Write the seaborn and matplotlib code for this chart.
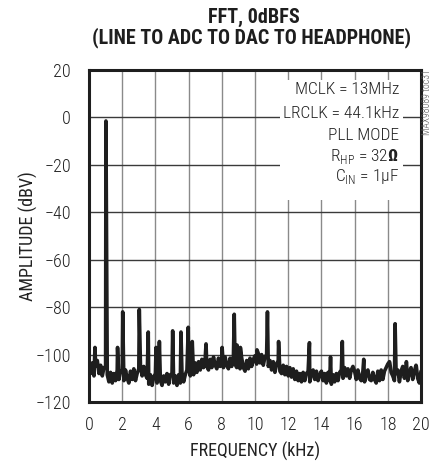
import numpy as np
import pandas as pd
import matplotlib
matplotlib.use("Agg")
import matplotlib.pyplot as plt
from matplotlib import font_manager as fm
import seaborn as sns
from matplotlib.patches import Rectangle

# ---------------- data ----------------
noise_freq = np.round(np.linspace(0, 20, 201), 2)  # kHz grid of the noise floor
noise_db = [
    -104, -108, -103.5, -109, -105, -102.5, -108, -104.5, -109, -105.5,
    -105, -108.5, -111.5, -107.5, -112, -108, -111, -106.5, -110.5, -107,
    -107.5, -111, -106.5, -110, -112, -107, -110.5, -106, -111, -108,
    -106, -104.5, -109, -105, -108.5, -110, -112.5, -108.5, -113, -109.5,
    -108, -112, -107.5, -111, -113, -109, -111.5, -108, -112.5, -108.5,
    -108, -112, -109, -113, -108.5, -112, -107.5, -111.5, -108.5, -106.5,
    -105, -109, -104.5, -108.5, -103.5, -107.5, -103, -106.5, -102, -105.5,
    -101.5, -105, -106.5, -102, -105.5, -101, -104.5, -106, -101.5, -105,
    -102, -105.5, -101, -104.5, -106, -101.5, -105, -100.5, -104, -105.5,
    -102, -106, -101.5, -105.5, -107, -102.5, -106, -101.5, -105, -102,
    -100.5, -104, -99.5, -103.5, -100, -104.5, -101, -100, -105, -102.5,
    -106.5, -103, -107.5, -104, -102.5, -107, -108, -104.5, -108.5, -105,
    -109, -105.5, -109.5, -106, -110.5, -107, -111, -108, -111.5, -107.5,
    -111, -108, -107, -111.5, -108, -106.5, -110.5, -107, -111, -108.5,
    -107, -111, -108, -112, -107.5, -111, -112.5, -108.5, -111.5, -108,
    -111, -107.5, -106.5, -110, -105.5, -109, -106, -110, -106.5, -105,
    -107, -110.5, -106.5, -110, -111, -107, -111.5, -108, -106.5, -110.5,
    -111, -107.5, -110.5, -112, -107, -111, -106.5, -110.5, -107, -105.5,
    -104, -103, -107.5, -109, -111, -108, -106.5, -111.5, -107, -105,
    -110, -106, -111, -107.5, -105.5, -110.5, -107, -104.5, -110, -112,
    -107,
]
peak_freq = [0.36, 1.02, 1.72, 2.03, 3.03, 3.57, 4.04, 4.24, 5.04, 5.54,
             5.98, 6.22, 7.05, 8.02, 8.75, 8.92, 9.12, 10.12, 10.75, 11.42,
             13.28, 14.55, 15.26, 16.55, 18.12, 18.44, 19.12, 19.72]
peak_db = [-97, -1.5, -97, -82, -81, -90.5, -97, -94.5, -90, -90.5,
           -88.5, -94.5, -95.5, -97, -83, -96, -97, -98, -82, -94.5,
           -95, -101, -94.5, -102, -103.5, -87, -103, -105]

x_ticks = list(range(0, 21, 2))
y_ticks = list(range(-120, 21, 20))
title_lines = ["FFT, 0dBFS", "(LINE TO ADC TO DAC TO HEADPHONE)"]
annot_lines = ["MCLK = 13MHz", "LRCLK = 44.1kHz", "PLL MODE",
               r"R$_{\mathrm{HP}}$ = 32$\mathbf{\Omega}$", r"C$_{\mathrm{IN}}$ = 1µF"]

# ---------------- font choice (prefer a condensed sans) ----------------
cond = {"condensed", "semi-condensed", "extra-condensed", "ultra-condensed"}
cands = [(f.name, f.stretch) for f in fm.fontManager.ttflist
         if "narrow" in f.name.lower() or "condensed" in f.name.lower()
         or str(f.stretch) in cond]
pref = ["Liberation Sans Narrow", "Roboto Condensed", "Open Sans Condensed",
        "Noto Sans", "DejaVu Sans", "Open Sans", "Roboto"]
FAM, STRETCH = "Roboto", "normal"
for p in pref:
    hit = [c for c in cands if c[0] == p]
    if hit:
        FAM, STRETCH = hit[0][0], hit[0][1]
        break
else:
    if cands:
        FAM, STRETCH = cands[0]

sns.set_theme(style="white")
plt.rcParams["font.family"] = [FAM, "DejaVu Sans"]
plt.rcParams["font.stretch"] = STRETCH
plt.rcParams["font.weight"] = "light"
plt.rcParams["mathtext.fontset"] = "custom"
plt.rcParams["mathtext.rm"] = FAM + ":light"
plt.rcParams["mathtext.bf"] = FAM + ":bold"

# ---------------- figure ----------------
df = pd.DataFrame({
    "freq": np.concatenate([noise_freq, peak_freq]),
    "amp": np.concatenate([noise_db, peak_db]),
}).sort_values("freq")

fig = plt.figure(figsize=(4.33, 4.63), dpi=100)
ax = fig.add_axes([89 / 433, 1 - 402 / 463, 332 / 433, 332 / 463])

sns.lineplot(data=df, x="freq", y="amp", estimator=None, sort=True,
             color="#1e1e1e", linewidth=2.6, ax=ax, zorder=3)

ax.set_xlim(0, 20)
ax.set_ylim(-120, 20)
ax.set_xticks(x_ticks)
ax.set_yticks(y_ticks)
ax.xaxis.grid(True, color="#8a8a8a", linewidth=1.0)
ax.yaxis.grid(True, color="#3a3a3a", linewidth=1.0)
ax.set_axisbelow(True)
for s in ax.spines.values():
    s.set_linewidth(2.2)
    s.set_color("#1e1e1e")
ax.tick_params(axis="both", length=0, labelsize=13, colors="#222222")
ax.tick_params(axis="x", pad=10)
ax.tick_params(axis="y", pad=13)
ax.set_xlabel("FREQUENCY (kHz)", fontsize=13, color="#222222", labelpad=6)
ax.set_ylabel("AMPLITUDE (dBV)", fontsize=13, color="#222222")
ax.yaxis.set_label_coords(-0.154, 0.5)

# white box behind annotation
ax.add_patch(Rectangle((0.575, 0.608), 0.371, 0.362, transform=ax.transAxes,
                       facecolor="white", edgecolor="none", zorder=2))
ys = [90, 113, 136, 157, 177]
for txt, yp in zip(annot_lines, ys):
    fig.text(399 / 433, 1 - yp / 463, txt, ha="right", va="center",
             fontsize=12.5, color="#222222", zorder=5)

fig.text(254 / 433, 1 - 17 / 463, title_lines[0], ha="center", va="center",
         fontsize=14.5, fontweight="bold", color="#1e1e1e")
fig.text(252 / 433, 1 - 38 / 463, title_lines[1], ha="center", va="center",
         fontsize=14.5, fontweight="bold", color="#1e1e1e")
fig.text(427 / 433, 1 - 102 / 463, "MAX98089 toc31", rotation=90,
         ha="center", va="center", fontsize=7, color="#555555")

fig.savefig("out.png", dpi=100)
